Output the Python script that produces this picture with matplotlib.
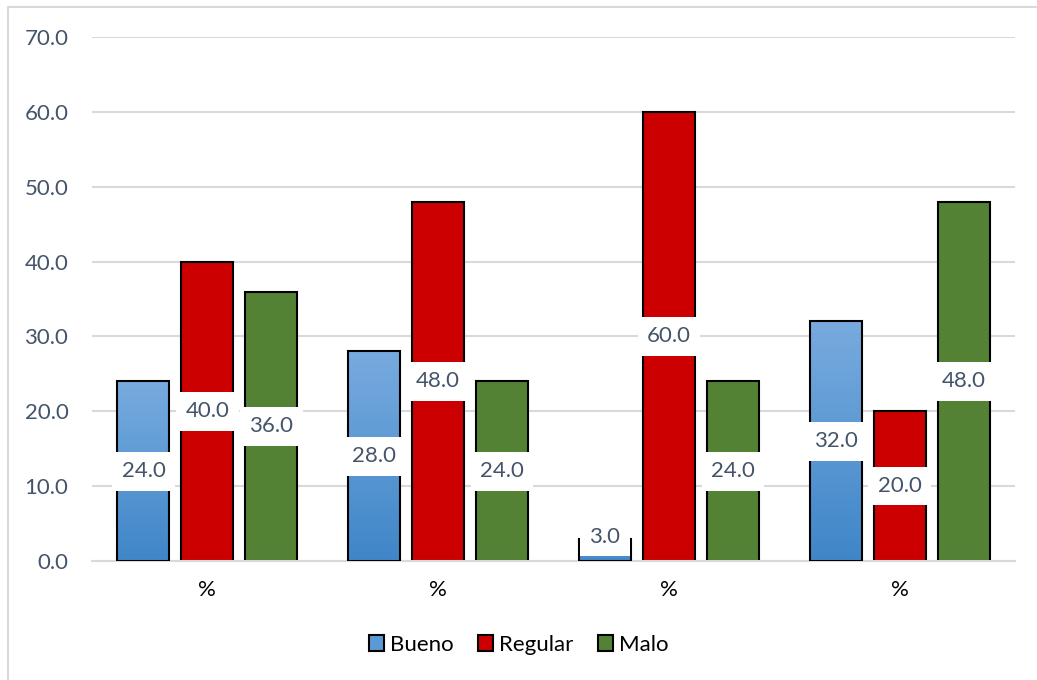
import matplotlib
matplotlib.use("Agg")
import matplotlib.pyplot as plt
import numpy as np
from matplotlib.patches import Rectangle
from matplotlib.colors import LinearSegmentedColormap

plt.rcParams['font.family'] = ['Lato', 'DejaVu Sans']

# data
categories = ["%", "%", "%", "%"]
series_names = ["Bueno", "Regular", "Malo"]
bueno = [24.0, 28.0, 3.0, 32.0]
regular = [40.0, 48.0, 60.0, 20.0]
malo = [36.0, 24.0, 24.0, 48.0]
y_ticks = [0, 10, 20, 30, 40, 50, 60, 70]

label_color = "#44546A"
grid_color = "#D9D9D9"
colors = ["#5B9BD5", "#CC0000", "#548235"]
blue_grad = LinearSegmentedColormap.from_list("bg", ["#3F86C8", "#78ABDF"])
fs = 16

fig = plt.figure(figsize=(10.37, 6.8), dpi=100)
ax = fig.add_axes([92/1037, 119/680, 923/1037, 524/680])

x = np.arange(len(categories))
width = 0.225
offset = 0.277
values = [bueno, regular, malo]

ax.set_axisbelow(True)
for i, (vals, col) in enumerate(zip(values, colors)):
    xs = x + (i - 1) * offset
    bars = ax.bar(xs, vals, width, color=col, edgecolor="black", linewidth=1.5,
                  label=series_names[i], zorder=2)
    if i == 0:
        # vertical gradient fill for the Bueno bars
        for b in bars:
            x0 = b.get_x()
            h = b.get_height()
            grad = np.linspace(0, 1, 256).reshape(-1, 1)
            im = ax.imshow(grad, cmap=blue_grad, origin="lower", aspect="auto",
                           extent=[x0, x0 + width, 0, h], zorder=2.5)
            im.set_clip_path(b)
            b.set_facecolor("none")
            b.set_zorder(3)
    for xi, v in zip(xs, vals):
        # labels sit at the bar middle, but never lower than just above the axis
        ax.text(xi, max(v / 2, 3.2), f"{v:.1f}", ha="center", va="center", fontsize=fs,
                color=label_color, zorder=5,
                bbox=dict(boxstyle="square,pad=0.42", fc="white", ec="none"))

ax.set_xlim(-0.5, 3.5)
ax.set_ylim(0, 70)
ax.set_yticks(y_ticks)
ax.set_yticklabels([f"{t:.1f}" for t in y_ticks])
ax.set_xticks(x)
ax.set_xticklabels(categories)
ax.tick_params(axis="y", length=0, pad=17, labelsize=fs, labelcolor=label_color)
ax.tick_params(axis="x", length=0, pad=14, labelsize=fs, labelcolor="black")
ax.yaxis.grid(True, color=grid_color, linewidth=1.5)
for s in ["top", "right", "left"]:
    ax.spines[s].set_visible(False)
ax.spines["bottom"].set_color(grid_color)
ax.spines["bottom"].set_linewidth(1.5)

# legend with square markers
handles = [Rectangle((0, 0), 1, 1, fc=c, ec="black", lw=1.5) for c in colors]
fig.legend(handles, series_names, loc="center", bbox_to_anchor=(0.5, 35/680),
           ncol=3, frameon=False, fontsize=fs, handlelength=0.7, handleheight=0.7,
           handletextpad=0.25, columnspacing=1.1)

# outer chart border
fig.patches.append(Rectangle((8/1037, -0.05), 1.2, 1.05 - 7/680, fill=False,
                             ec=grid_color, lw=1.5, transform=fig.transFigure, figure=fig))

fig.savefig("out.png", dpi=100, facecolor="white")
